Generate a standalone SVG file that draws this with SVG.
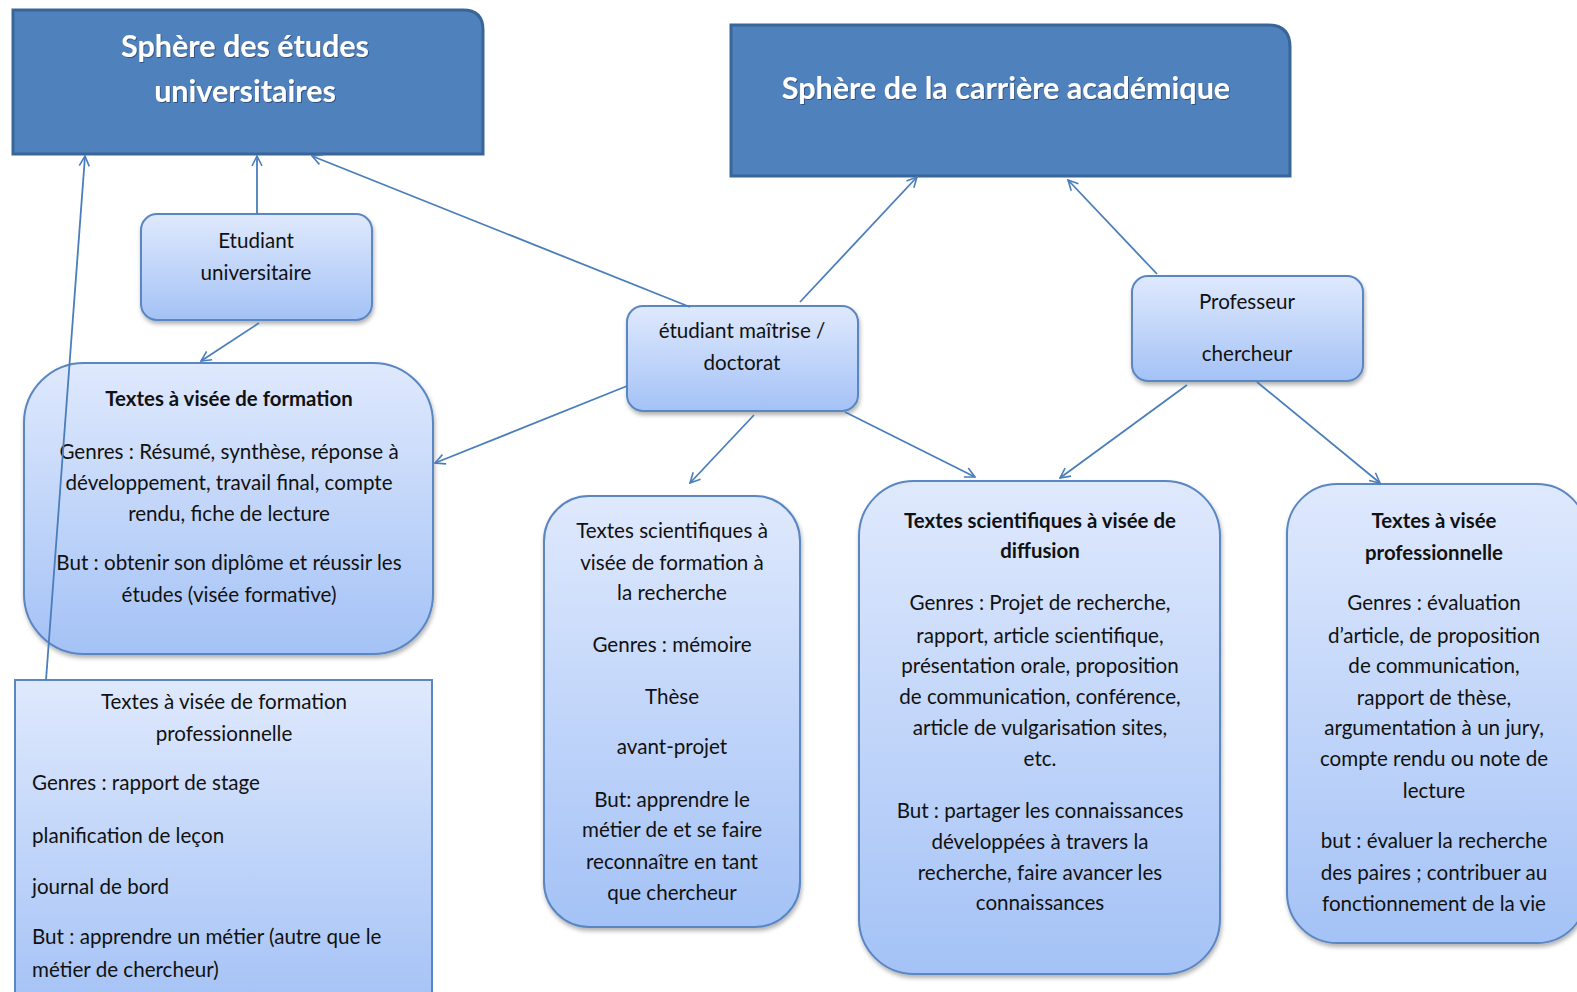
<svg xmlns="http://www.w3.org/2000/svg" width="1577" height="992" viewBox="0 0 1577 992">
<defs>
<linearGradient id="g" x1="0" y1="0" x2="0" y2="1">
<stop offset="0" stop-color="#dfe9fd"/>
<stop offset="1" stop-color="#a4c2f6"/>
</linearGradient>
<filter id="sh" x="-10%" y="-10%" width="120%" height="120%">
<feDropShadow dx="1" dy="3" stdDeviation="2" flood-color="#000" flood-opacity="0.3"/>
</filter>
<filter id="ts" x="-5%" y="-20%" width="110%" height="140%">
<feDropShadow dx="1" dy="1" stdDeviation="0.6" flood-color="#1c3556" flood-opacity="0.6"/>
</filter>
<marker id="arr" viewBox="0 0 12 12" refX="11" refY="6" markerWidth="12" markerHeight="12" markerUnits="userSpaceOnUse" orient="auto">
<path d="M1,1 L11,6 L1,11" fill="none" stroke="#4a7ebb" stroke-width="1.6"/>
</marker>
</defs>
<style>
.hdr{fill:#4f81bd;stroke:#3a6597;stroke-width:3}
.nd{fill:url(#g);stroke:#5a86c2;stroke-width:2;filter:url(#sh)}
.ht{font-family:Lato,"Liberation Sans",sans-serif;font-weight:bold;font-size:30.5px;fill:#fff;text-anchor:middle;filter:url(#ts)}
.t{font-family:Lato,"Liberation Sans",sans-serif;font-size:20.6px;fill:#111;text-anchor:middle}
.b{font-weight:bold;font-size:20.4px}
.l{text-anchor:start}
.c{fill:none;stroke:#4a7ebb;stroke-width:1.8;marker-end:url(#arr)}
</style>
<rect width="1577" height="992" fill="#fff"/>

<g id="sphere-etudes">
<path class="hdr" d="M13,10 H463 Q483,10 483,30 V154 H13 Z"/>
<text class="ht" x="245" y="57">Sphère des études</text>
<text class="ht" x="245" y="102">universitaires</text>
</g>

<g id="sphere-carriere">
<path class="hdr" d="M731,25 H1268 Q1290,25 1290,47 V176 H731 Z"/>
<text class="ht" x="1006" y="99">Sphère de la carrière académique</text>
</g>

<g id="etudiant-universitaire">
<rect class="nd" x="141" y="214" width="231" height="106" rx="16"/>
<text class="t" x="256" y="248">Etudiant</text>
<text class="t" x="256" y="280">universitaire</text>
</g>

<g id="etudiant-maitrise">
<rect class="nd" x="627" y="306" width="231" height="105" rx="16"/>
<text class="t" x="742" y="338">étudiant maîtrise /</text>
<text class="t" x="742" y="370">doctorat</text>
</g>

<g id="professeur">
<rect class="nd" x="1132" y="276" width="231" height="105" rx="16"/>
<text class="t" x="1247" y="309">Professeur</text>
<text class="t" x="1247" y="361">chercheur</text>
</g>

<g id="textes-formation">
<rect class="nd" x="24" y="363" width="409" height="291" rx="60"/>
<text class="t b" x="229" y="406">Textes à visée de formation</text>
<text class="t" x="229" y="459">Genres : Résumé, synthèse, réponse à</text>
<text class="t" x="229" y="490">développement, travail final, compte</text>
<text class="t" x="229" y="521">rendu, fiche de lecture</text>
<text class="t" x="229" y="570">But : obtenir son diplôme et réussir les</text>
<text class="t" x="229" y="602">études (visée formative)</text>
</g>

<g id="textes-formation-pro">
<rect x="15" y="680" width="417" height="330" fill="url(#g)" stroke="#5a86c2" stroke-width="2"/>
<text class="t" x="224" y="709">Textes à visée de formation</text>
<text class="t" x="224" y="741">professionnelle</text>
<text class="t l" x="32" y="790">Genres : rapport de stage</text>
<text class="t l" x="32" y="843">planification de leçon</text>
<text class="t l" x="32" y="894">journal de bord</text>
<text class="t l" x="32" y="944">But : apprendre un métier (autre que le</text>
<text class="t l" x="32" y="977">métier de chercheur)</text>
</g>

<g id="textes-sci-formation">
<rect class="nd" x="544" y="496" width="256" height="431" rx="45"/>
<text class="t" x="672" y="538">Textes scientifiques à</text>
<text class="t" x="672" y="570">visée de formation à</text>
<text class="t" x="672" y="600">la recherche</text>
<text class="t" x="672" y="652">Genres : mémoire</text>
<text class="t" x="672" y="704">Thèse</text>
<text class="t" x="672" y="754">avant-projet</text>
<text class="t" x="672" y="807">But: apprendre le</text>
<text class="t" x="672" y="837">métier de et se faire</text>
<text class="t" x="672" y="869">reconnaître en tant</text>
<text class="t" x="672" y="900">que chercheur</text>
</g>

<g id="textes-sci-diffusion">
<rect class="nd" x="859" y="481" width="361" height="493" rx="55"/>
<text class="t b" x="1040" y="528">Textes scientifiques à visée de</text>
<text class="t b" x="1040" y="558">diffusion</text>
<text class="t" x="1040" y="610">Genres : Projet de recherche,</text>
<text class="t" x="1040" y="643">rapport, article scientifique,</text>
<text class="t" x="1040" y="673">présentation orale, proposition</text>
<text class="t" x="1040" y="704">de communication, conférence,</text>
<text class="t" x="1040" y="735">article de vulgarisation sites,</text>
<text class="t" x="1040" y="766">etc.</text>
<text class="t" x="1040" y="818">But : partager les connaissances</text>
<text class="t" x="1040" y="849">développées à travers la</text>
<text class="t" x="1040" y="880">recherche, faire avancer les</text>
<text class="t" x="1040" y="910">connaissances</text>
</g>

<g id="textes-pro">
<rect class="nd" x="1287" y="484" width="300" height="459" rx="50"/>
<text class="t b" x="1434" y="528">Textes à visée</text>
<text class="t b" x="1434" y="560">professionnelle</text>
<text class="t" x="1434" y="610">Genres : évaluation</text>
<text class="t" x="1434" y="643">d’article, de proposition</text>
<text class="t" x="1434" y="673">de communication,</text>
<text class="t" x="1434" y="705">rapport de thèse,</text>
<text class="t" x="1434" y="735">argumentation à un jury,</text>
<text class="t" x="1434" y="766">compte rendu ou note de</text>
<text class="t" x="1434" y="798">lecture</text>
<text class="t" x="1434" y="848">but : évaluer la recherche</text>
<text class="t" x="1434" y="880">des paires ; contribuer au</text>
<text class="t" x="1434" y="911">fonctionnement de la vie</text>
</g>

<g id="connectors">
<line class="c" x1="46" y1="680" x2="85" y2="156"/>
<line class="c" x1="257" y1="214" x2="257" y2="156"/>
<line class="c" x1="690" y1="307" x2="312" y2="156"/>
<line class="c" x1="800" y1="302" x2="917" y2="177"/>
<line class="c" x1="1157" y1="274" x2="1068" y2="180"/>
<line class="c" x1="259" y1="323" x2="201" y2="361"/>
<line class="c" x1="627" y1="386" x2="435" y2="463"/>
<line class="c" x1="754" y1="415" x2="690" y2="483"/>
<line class="c" x1="845" y1="412" x2="975" y2="477"/>
<line class="c" x1="1187" y1="385" x2="1060" y2="478"/>
<line class="c" x1="1257" y1="382" x2="1380" y2="483"/>
</g>
</svg>
